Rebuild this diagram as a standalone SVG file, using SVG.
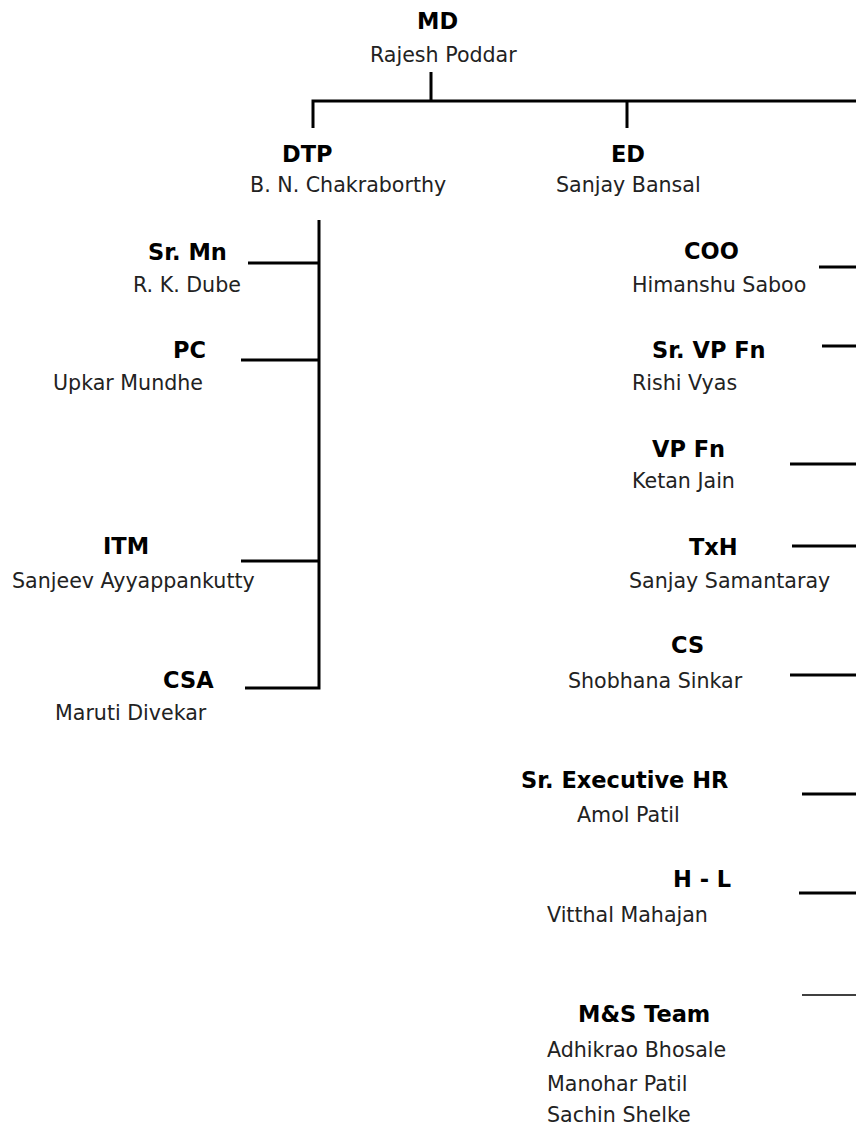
<svg xmlns="http://www.w3.org/2000/svg" width="856" height="1127" viewBox="0 0 856 1127">
<style>
.t{font-family:"DejaVu Sans",Verdana,sans-serif;font-weight:bold;font-size:22.5px;fill:#000}
.n{font-family:"DejaVu Sans",Verdana,sans-serif;font-size:20.6px;fill:#222}
.c{stroke:#000;stroke-width:3;fill:none}
.c2{stroke:#000;stroke-width:1.5;fill:none}
</style>
<rect width="856" height="1127" fill="#fff"/>
<g id="connectors">
<path class="c" d="M431,72V101M313,128V101H856M627,101V128"/>
<path class="c" d="M319,220V688H245M248,263H319M241,360H319M241,561H319"/>
<path class="c" d="M819,267H856M822,346H856M790,464H856M792,546H856M790,675H856M802,794H856M799,893H856"/>
<path class="c2" d="M802,995H856"/>
</g>
<g id="md"><text class="t" x="417" y="29">MD</text><text class="n" x="370" y="62">Rajesh Poddar</text></g>
<g id="dtp"><text class="t" x="282" y="162">DTP</text><text class="n" x="250" y="192">B. N. Chakraborthy</text></g>
<g id="ed"><text class="t" x="611" y="162">ED</text><text class="n" x="556" y="192">Sanjay Bansal</text></g>
<g id="srmn"><text class="t" x="148" y="260">Sr. Mn</text><text class="n" x="133" y="292">R. K. Dube</text></g>
<g id="pc"><text class="t" x="173" y="358">PC</text><text class="n" x="53" y="390">Upkar Mundhe</text></g>
<g id="itm"><text class="t" x="103" y="554">ITM</text><text class="n" x="12" y="588">Sanjeev Ayyappankutty</text></g>
<g id="csa"><text class="t" x="163" y="688">CSA</text><text class="n" x="55" y="720">Maruti Divekar</text></g>
<g id="coo"><text class="t" x="684" y="259">COO</text><text class="n" x="632" y="292">Himanshu Saboo</text></g>
<g id="srvpfn"><text class="t" x="652" y="358">Sr. VP Fn</text><text class="n" x="632" y="390">Rishi Vyas</text></g>
<g id="vpfn"><text class="t" x="652" y="457">VP Fn</text><text class="n" x="632" y="488">Ketan Jain</text></g>
<g id="txh"><text class="t" x="689" y="555">TxH</text><text class="n" x="629" y="588">Sanjay Samantaray</text></g>
<g id="cs"><text class="t" x="671" y="653">CS</text><text class="n" x="568" y="688">Shobhana Sinkar</text></g>
<g id="srexechr"><text class="t" x="521" y="788">Sr. Executive HR</text><text class="n" x="577" y="822">Amol Patil</text></g>
<g id="hl"><text class="t" x="673" y="887">H - L</text><text class="n" x="547" y="922">Vitthal Mahajan</text></g>
<g id="mns"><text class="t" x="578" y="1022">M&amp;S Team</text><text class="n" x="547" y="1057">Adhikrao Bhosale</text><text class="n" x="547" y="1091">Manohar Patil</text><text class="n" x="547" y="1122">Sachin Shelke</text></g>
</svg>
